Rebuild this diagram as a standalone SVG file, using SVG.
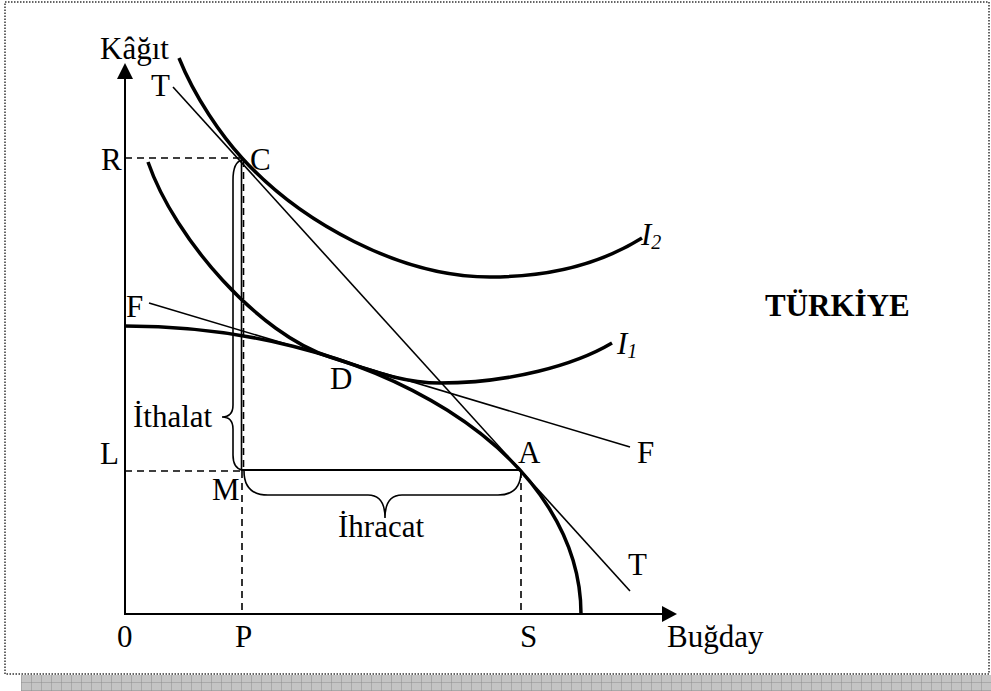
<svg xmlns="http://www.w3.org/2000/svg" width="991" height="691" viewBox="0 0 991 691">
<defs>
<style>
text{font-family:"Liberation Serif","Times New Roman",serif;font-size:31px;fill:#000}
.thick{fill:none;stroke:#000;stroke-width:3.5}
.thin{fill:none;stroke:#000;stroke-width:1.6}
.axis{fill:none;stroke:#000;stroke-width:2}
.dash{fill:none;stroke:#000;stroke-width:1.6;stroke-dasharray:7 5}
.brace{fill:none;stroke:#000;stroke-width:1.6}
</style>
<pattern id="grid" x="21" y="675" width="10" height="8" patternUnits="userSpaceOnUse">
<rect width="10" height="8" fill="#c4c4c4"/>
<path d="M0,0V8M0,8H10" stroke="#8e8e8e" stroke-width="1"/>
</pattern>
</defs>
<rect width="991" height="691" fill="#fff"/>
<rect x="21" y="675" width="970" height="16" fill="url(#grid)"/>
<rect x="5" y="2" width="984" height="672" fill="none" stroke="#333" stroke-width="1.5" stroke-dasharray="1.5 1.5"/>

<g id="axes">
<path class="axis" d="M125,78V614H663"/>
<polygon points="125,63 117,79 133,79"/>
<polygon points="677,614 662,606 662,622"/>
</g>

<g id="connectors">
<path class="dash" d="M125,158H242"/>
<path class="dash" d="M125,471H242"/>
<path class="dash" d="M242,471V614"/>
<path class="dash" d="M521,471V614"/>
<path class="dash" d="M243.5,160V470"/>
<path class="thin" d="M241.5,158V471"/>
<path class="axis" d="M242,470H521"/>
<path class="thin" d="M173,87L630,591"/>
<path class="thin" d="M149,303L630,447"/>
</g>

<g id="ppf"><path class="thick" d="M125,326A456,288 0 0 1 581,614"/></g>
<g id="I2-curve"><path class="thick" d="M179,58C195,98 222,136 242,158C300,222 400,277 490,277C560,277 610,258 642,238"/></g>
<g id="I1-curve"><path class="thick" d="M148,162C175,240 260,335 330,357C365,368 400,383 440,383C510,383 575,365 612,343"/></g>

<g id="brace-ithalat"><path class="brace" d="M242,160Q233,162 233,180L233,405Q233,417 222,417Q233,417 233,429L233,455Q233,468 242,470"/></g>
<g id="brace-ihracat"><path class="brace" d="M244,471Q244,495 268,495L368,495Q385,495 385,518Q385,495 402,495L498,495Q521,495 521,471"/></g>

<g id="labels">
<text x="100" y="59">Kâğıt</text>
<text x="151" y="96">T</text>
<text x="101" y="170">R</text>
<text x="250" y="170">C</text>
<text x="126" y="317">F</text>
<text x="330" y="389">D</text>
<text x="133" y="427">İthalat</text>
<text x="100" y="464">L</text>
<text x="212" y="500">M</text>
<text x="518" y="463">A</text>
<text x="637" y="463">F</text>
<text x="338" y="537">İhracat</text>
<text x="628" y="575">T</text>
<text x="117" y="647">0</text>
<text x="235" y="647">P</text>
<text x="520" y="647">S</text>
<text x="667" y="647">Buğday</text>
<text x="641" y="245" font-style="italic">I<tspan font-size="20" dy="4">2</tspan></text>
<text x="617" y="354" font-style="italic">I<tspan font-size="20" dy="4">1</tspan></text>
<text x="765" y="316" font-weight="bold">TÜRKİYE</text>
</g>
</svg>
